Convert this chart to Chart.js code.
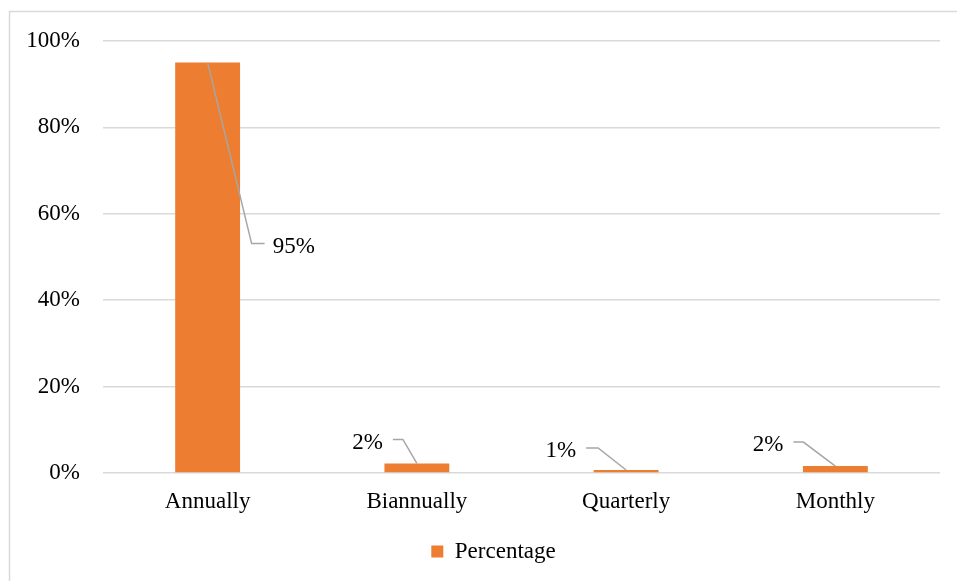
<!DOCTYPE html>
<html>
<head>
<meta charset="utf-8">
<script src="https://cdn.jsdelivr.net/npm/chart.js@4/dist/chart.umd.min.js"></script>
<style>
  html, body { margin: 0; padding: 0; background: #ffffff; }
  #wrap { width: 957px; height: 581px; position: relative; }
</style>
</head>
<body>
<div id="wrap"><canvas id="c"></canvas></div>
<script>
// Survey: how often the review is carried out
const categories = ['Annually', 'Biannually', 'Quarterly', 'Monthly'];
const percentage = [95, 2.2, 0.7, 1.6];
const yTicks = [0, 20, 40, 60, 80, 100];

const SERIF = '"Liberation Serif", "Times New Roman", serif';
const FONT_SIZE = 23;
const BAR = '#ED7D31';
const GRID = '#d9d9d9';
const LEADER = '#a6a6a6';

// Callout placement for each value label: elbow offset from the bar top,
// then a short horizontal tail toward the text.
const callouts = [
  { dx: 44,  dy: 181, tail: 13 },
  { dx: -14, dy: -24, tail: -10 },
  { dx: -28, dy: -22, tail: -12 },
  { dx: -32, dy: -24, tail: -10 }
];

const framePlugin = {
  id: 'frame',
  beforeDraw(chart) {
    const ctx = chart.ctx;
    ctx.save();
    ctx.fillStyle = '#ffffff';
    ctx.fillRect(0, 0, chart.width, chart.height);
    ctx.strokeStyle = GRID;
    ctx.lineWidth = 1.5;
    ctx.strokeRect(9.5, 11.5, chart.width + 20, chart.height + 20);
    ctx.restore();
  }
};

// The legend is centred on the outer frame rather than on the canvas.
const legendShiftPlugin = {
  id: 'legendShift',
  afterLayout(chart) {
    if (chart.legend) {
      chart.legend.left = 47;
    }
  }
};

const calloutPlugin = {
  id: 'callouts',
  afterDatasetsDraw(chart) {
    const ctx = chart.ctx;
    const meta = chart.getDatasetMeta(0);
    ctx.save();
    ctx.font = FONT_SIZE + 'px ' + SERIF;
    ctx.textBaseline = 'middle';
    meta.data.forEach((bar, i) => {
      const c = callouts[i];
      const ex = bar.x + c.dx, ey = bar.y + c.dy;
      const tx = ex + c.tail;
      ctx.strokeStyle = LEADER;
      ctx.lineWidth = 1.5;
      ctx.beginPath();
      ctx.moveTo(bar.x, bar.y);
      ctx.lineTo(ex, ey);
      ctx.lineTo(tx, ey);
      ctx.stroke();
      const label = Math.round(percentage[i]) + '%';
      ctx.fillStyle = '#000000';
      if (c.tail > 0) {
        ctx.textAlign = 'left';
        ctx.fillText(label, tx + 8, ey + 3);
      } else {
        ctx.textAlign = 'right';
        ctx.fillText(label, tx - 10, ey + 3);
      }
    });
    ctx.restore();
  }
};

new Chart(document.getElementById('c'), {
  type: 'bar',
  data: {
    labels: categories,
    datasets: [{
      label: 'Percentage',
      data: percentage,
      backgroundColor: BAR,
      borderWidth: 0,
      barPercentage: 0.62,
      categoryPercentage: 0.5
    }]
  },
  options: {
    responsive: true,
    maintainAspectRatio: false,
    animation: false,
    layout: { padding: { top: 41, left: 0, right: 17, bottom: 8 } },
    scales: {
      x: {
        grid: { display: false, drawTicks: false },
        border: { display: false },
        ticks: { color: '#000000', font: { family: SERIF, size: FONT_SIZE }, padding: 15 },
        afterFit(scale) { scale.height = 58; }
      },
      y: {
        min: 0,
        max: 100,
        afterBuildTicks(scale) { scale.ticks = yTicks.map(v => ({ value: v })); },
        grid: { color: GRID, lineWidth: 1.5, drawTicks: false },
        border: { display: false },
        ticks: {
          color: '#000000',
          font: { family: SERIF, size: FONT_SIZE },
          padding: 23,
          callback: v => v + '%'
        },
        afterFit(scale) { scale.width = 103; }
      }
    },
    plugins: {
      legend: {
        position: 'bottom',
        labels: {
          color: '#000000',
          font: { family: SERIF, size: FONT_SIZE },
          boxWidth: 12,
          boxHeight: 12,
          padding: 9,
          useBorderRadius: false
        }
      },
      tooltip: { enabled: false }
    }
  },
  plugins: [framePlugin, legendShiftPlugin, calloutPlugin]
});
</script>
</body>
</html>
